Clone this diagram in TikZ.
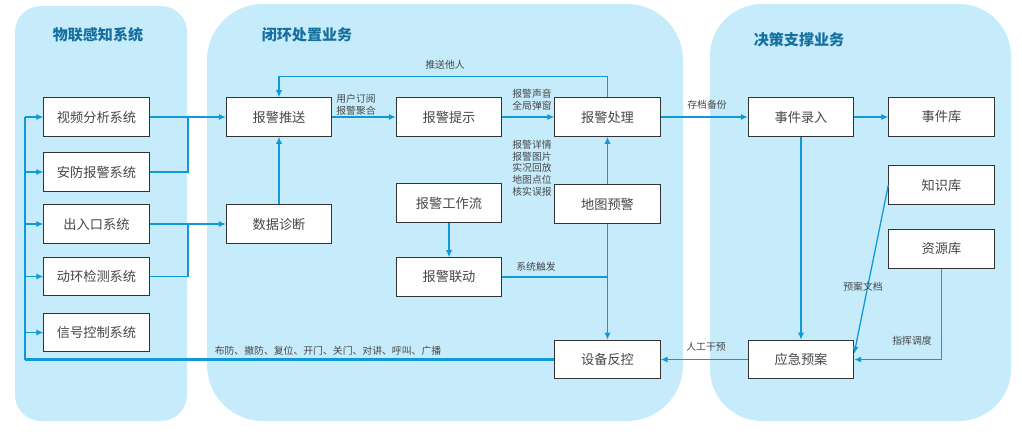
\documentclass[tikz,border=0pt]{standalone}
\usepackage{fontspec}
\setmainfont{Noto Sans CJK SC}
\usetikzlibrary{arrows.meta}
\definecolor{panel}{HTML}{C6ECFC}
\definecolor{flow}{HTML}{1198D6}
\definecolor{heading}{HTML}{16709F}
\definecolor{ink}{HTML}{333333}

\begin{document}
\begin{tikzpicture}[x=0.025cm,y=-0.025cm,
    every node/.style={font=\fontsize{9.4}{11}\selectfont,text=ink!90},
    box/.style={rectangle,draw=ink,fill=white,line width=.8pt,
        minimum width=2.63cm,minimum height=.96cm,inner sep=0pt},
    zone/.style={fill=panel,draw=none},
    heading/.style={font=\fontsize{10.7}{12}\selectfont\bfseries,text=heading},
    tag/.style={font=\fontsize{7}{8.3}\selectfont,align=left,inner sep=0pt},
    plain/.style={draw=flow,line width=.9pt},
    link/.style={plain,-{Latex[length=5pt,width=4.4pt]}}]
  \useasboundingbox (0,0) rectangle (1022,436);

  \fill[zone,rounded corners=.65cm] (15,6) rectangle (187,421);
  \fill[zone,rounded corners=1.4cm] (207,4) rectangle (683,421);
  \fill[zone,rounded corners=1.3cm] (710,4) rectangle (1011,421);

  \node[heading] (t1) at (98,35) {物联感知系统};
  \node[heading] (t2) at (307,35) {闭环处置业务};
  \node[heading] (t3) at (799,40) {决策支撑业务};

  \foreach \n/\y/\t in {vsa/117/视频分析系统,afbj/172/安防报警系统,
      cry/224/出入口系统,dhjc/276.5/动环检测系统,xhkz/332.5/信号控制系统}
    \node[box] (\n) at (96.5,\y) {\t};

  \node[box] (bjts) at (279,117) {报警推送};
  \node[box] (sjzd) at (279,224) {数据诊断};
  \node[box] (bjtx) at (449,117) {报警提示};
  \node[box] (bjcl) at (607.5,117) {报警处理};
  \node[box] (gzl) at (449,203) {报警工作流};
  \node[box] (dtyj) at (607.5,204) {地图预警};
  \node[box] (bjld) at (449,277) {报警联动};
  \node[box] (sbfk) at (607.5,359.5) {设备反控};

  \node[box] (sjlr) at (801,117) {事件录入};
  \node[box] (sjk) at (941.5,117) {事件库};
  \node[box] (zsk) at (941.5,185) {知识库};
  \node[box] (zyk) at (941.5,249) {资源库};
  \node[box] (yjya) at (801,359.5) {应急预案};

  \coordinate (bus) at (25,117);
  \coordinate (j1) at (188,117);
  \coordinate (j2) at (188,224);

  \draw[plain,line width=1.6pt] (sbfk.west) -- (sbfk.west -| bus);
  \draw[plain] (sbfk.west -| bus) -- (bus);
  \foreach \n in {vsa,afbj,cry,dhjc,xhkz}
    \draw[link] (bus |- \n.west) -- (\n.west);

  \draw[link] (vsa.east) -- (bjts.west);
  \draw[plain] (afbj.east) -| (j1);
  \draw[link] (cry.east) -- (sjzd.west);
  \draw[plain] (dhjc.east) -| (j2);

  \draw[link] (sjzd) -- (bjts);
  \draw[link] (bjts) -- (bjtx);
  \draw[link] (bjtx) -- (bjcl);
  \draw[link] (bjcl.north) -- ++(0,-20.5) -| (bjts.north);
  \draw[link] (dtyj) -- (bjcl);
  \draw[link] (dtyj) -- (sbfk);
  \draw[link] (gzl) -- (bjld);
  \draw[plain] (bjld.east) -- (bjld.east -| dtyj);

  \draw[link] (bjcl) -- (sjlr);
  \draw[link] (sjlr) -- (sjk);
  \draw[link] (sjlr) -- (yjya);
  \draw[link] (yjya) -- (sbfk);
  \draw[link] (zsk.west) -- ([yshift=.15cm]yjya.east);
  \draw[link] (zyk.south) |- (yjya.east);

  \node[tag] (l1) at (445,65) {推送他人};
  \node[tag] (l2) at (356,104.5) {用户订阅\\报警聚合};
  \node[tag] (l3) at (532,100) {报警声音\\全局弹窗};
  \node[tag] (l4) at (532,168) {报警详情\\报警图片\\实况回放\\地图点位\\核实误报};
  \node[tag] (l5) at (536,267) {系统触发};
  \node[tag] (l6) at (707,105) {存档备份};
  \node[tag] (l7) at (706,347) {人工干预};
  \node[tag] (l8) at (863,287) {预案文档};
  \node[tag] (l9) at (912,341) {指挥调度};
  \node[tag] (l10) at (328,351) {布防、撤防、复位、开门、关门、对讲、呼叫、广播};
\end{tikzpicture}
\end{document}
